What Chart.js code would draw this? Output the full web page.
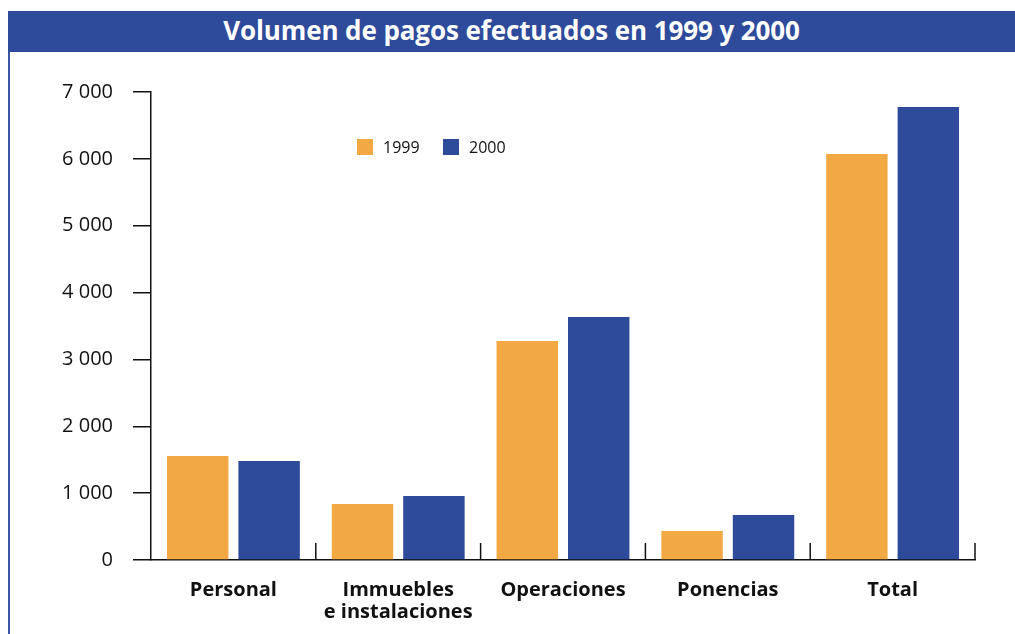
<!DOCTYPE html>
<html>
<head>
<meta charset="utf-8">
<script src="https://cdn.jsdelivr.net/npm/chart.js@4/dist/chart.umd.min.js"></script>
<style>
  html, body { margin: 0; padding: 0; background: #ffffff; }
  #wrap { position: relative; width: 1015px; height: 634px; overflow: hidden; }
  #band {
    position: absolute; left: 8px; top: 11px; width: 1007px; height: 41px;
    background: #2e4a9a; color: #ffffff;
    font-family: "Open Sans", sans-serif; font-weight: 700; font-size: 26px;
    line-height: 39px; text-align: center; letter-spacing: -0.1px;
  }
  #rule { position: absolute; left: 8px; top: 52px; width: 2px; height: 582px; background: #3b55a6; }
  #box { position: absolute; left: 0; top: 0; width: 1015px; height: 634px; }
</style>
</head>
<body>
<div id="wrap">
  <div id="box"><canvas id="c" width="1015" height="634"></canvas></div>
  <div id="band"><span id="ttl">Volumen de pagos efectuados en 1999 y 2000</span></div>
  <div id="rule"></div>
</div>
<script>
// Payment volumes by concept
const categories = [["Personal"], ["Immuebles", "e instalaciones"], ["Operaciones"], ["Ponencias"], ["Total"]];
const seriesNames = ["1999", "2000"];
const values1999 = [1555, 838, 3276, 434, 6072];
const values2000 = [1481, 957, 3635, 673, 6775];
const yTicks = [0, 1000, 2000, 3000, 4000, 5000, 6000, 7000];

const ORANGE = "#f2a944";
const BLUE = "#2e4a9a";
const INK = "#111111";

function fmt(v) {
  return String(v).replace(/\B(?=(\d{3})+(?!\d))/g, " ");
}

// Short upward ticks at the category boundaries on the x axis
const boundaryTicks = {
  id: "boundaryTicks",
  afterDraw(chart) {
    const x = chart.scales.x, ctx = chart.ctx, y0 = chart.chartArea.bottom;
    ctx.save();
    ctx.strokeStyle = INK;
    ctx.lineWidth = 1.5;
    const n = chart.data.labels.length;
    for (let i = 0; i < n; i++) {
      let px;
      if (i < n - 1) px = (x.getPixelForValue(i) + x.getPixelForValue(i + 1)) / 2;
      else px = chart.chartArea.right;
      ctx.beginPath();
      ctx.moveTo(px, y0 - 17);
      ctx.lineTo(px, y0);
      ctx.stroke();
    }
    ctx.restore();
  }
};

// Compact legend inside the plot
const innerLegend = {
  id: "innerLegend",
  afterDraw(chart) {
    const ctx = chart.ctx;
    const xs = [357, 443];
    const yc = 147;
    ctx.save();
    ctx.font = "16px 'Open Sans', sans-serif";
    ctx.textBaseline = "middle";
    chart.data.datasets.forEach((ds, i) => {
      ctx.fillStyle = ds.backgroundColor;
      ctx.fillRect(xs[i], yc - 8, 16, 16);
      ctx.fillStyle = INK;
      ctx.fillText(ds.label, xs[i] + 26, yc + 1);
    });
    ctx.restore();
  }
};

new Chart(document.getElementById("c"), {
  type: "bar",
  data: {
    labels: categories,
    datasets: [
      { label: seriesNames[0], data: values1999, backgroundColor: ORANGE },
      { label: seriesNames[1], data: values2000, backgroundColor: BLUE }
    ]
  },
  options: {
    responsive: false,
    animation: false,
    events: [],
    categoryPercentage: 0.867,
    barPercentage: 0.86,
    layout: { padding: { left: 0, right: 40, top: 92, bottom: 0 } },
    plugins: { legend: { display: false }, title: { display: false }, tooltip: { enabled: false } },
    scales: {
      x: {
        afterFit(s) { s.height = 74; },
        grid: { display: false, drawTicks: false },
        border: { display: true, color: INK, width: 1.5 },
        ticks: {
          color: INK,
          padding: 19,
          font: { family: "'Open Sans', sans-serif", size: 20, weight: "bold", lineHeight: 1.1 }
        }
      },
      y: {
        min: 0, max: 7000,
        afterFit(s) { s.width = 151; },
        afterBuildTicks(s) { s.ticks = yTicks.map(v => ({ value: v })); },
        grid: { drawOnChartArea: false, drawTicks: true, tickLength: 18, color: INK, lineWidth: 1.5 },
        border: { display: true, color: INK, width: 1.5 },
        ticks: {
          color: INK,
          padding: 20,
          font: { family: "'Open Sans', sans-serif", size: 20 },
          callback: v => fmt(v)
        }
      }
    }
  },
  plugins: [boundaryTicks, innerLegend]
});
</script>
</body>
</html>
